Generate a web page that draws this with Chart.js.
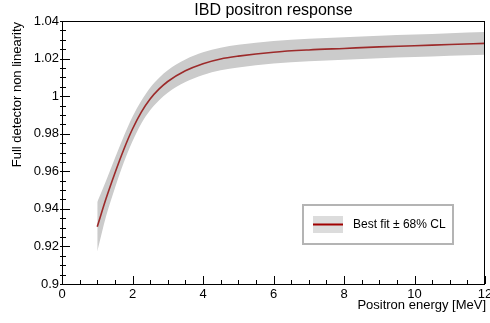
<!DOCTYPE html>
<html>
<head>
<meta charset="utf-8">
<script src="https://cdn.jsdelivr.net/npm/chart.js@4"></script>
<style>
  body { margin: 0; background: #fff; }
  canvas { display: block; }
</style>
</head>
<body>
<canvas id="response" width="490" height="323"></canvas>
<script>
// values
var energy   = [1, 1.25, 1.5, 1.75, 2, 2.25, 2.5, 2.75, 3, 3.5, 4, 4.5, 5, 6, 7, 8, 9, 10, 11, 12];
var bestFit  = [0.9305, 0.9455, 0.959, 0.9715, 0.9825, 0.9915, 0.9985, 1.0037, 1.0078, 1.0135, 1.0173, 1.0198, 1.0213, 1.0234, 1.0246, 1.0254, 1.0262, 1.0268, 1.0275, 1.0281];
var bandHigh = [0.9437, 0.955, 0.967, 0.9785, 0.989, 0.9975, 1.0045, 1.0097, 1.0138, 1.0195, 1.0233, 1.0258, 1.0273, 1.0294, 1.0306, 1.0314, 1.0322, 1.0328, 1.0335, 1.0341];
var bandLow  = [0.9173, 0.936, 0.951, 0.9645, 0.976, 0.9855, 0.9925, 0.9977, 1.0018, 1.0075, 1.0113, 1.0138, 1.0153, 1.0174, 1.0186, 1.0194, 1.0202, 1.0208, 1.0215, 1.0221];

var xTicks = [0, 2, 4, 6, 8, 10, 12];
var xTickLabels = ['0', '2', '4', '6', '8', '10', '12'];
var yTicks = [0.9, 0.92, 0.94, 0.96, 0.98, 1, 1.02, 1.04];
var yTickLabels = ['0.9', '0.92', '0.94', '0.96', '0.98', '1', '1.02', '1.04'];

var titleText = 'IBD positron response';
var xTitle = 'Positron energy [MeV]';
var yTitle = 'Full detector non linearity';
var legendText = 'Best fit \u00b1 68% CL';

var FONT = '"Liberation Sans", Arial, sans-serif';

function points(ys) {
  return energy.map(function (x, i) { return { x: x, y: ys[i] }; });
}

// ROOT style frame, inward ticks, titles and legend box
var rootStyle = {
  id: 'rootStyle',
  afterDatasetsDraw: function (chart) {
    var ctx = chart.ctx, a = chart.chartArea;
    var xs = chart.scales.x, ys = chart.scales.y;
    ctx.save();
    ctx.strokeStyle = '#000';
    ctx.lineWidth = 1;
    ctx.strokeRect(a.left + 0.5, a.top + 0.5, a.right - a.left - 1, a.bottom - a.top);

    ctx.beginPath();
    for (var v = 0; v <= 12.001; v += 0.5) {
      var px = Math.round(xs.getPixelForValue(v)) + 0.5;
      var len = (Math.abs(v / 2 - Math.round(v / 2)) < 1e-6) ? 8 : 4;
      ctx.moveTo(px, a.bottom);
      ctx.lineTo(px, a.bottom - len);
    }
    for (var k = 0; k <= 28; k++) {
      var val = 0.9 + k * 0.005;
      var py = Math.round(ys.getPixelForValue(val)) + 0.5;
      var l2 = (k % 4 === 0) ? 8 : 4;
      ctx.moveTo(a.left - 2, py);
      ctx.lineTo(a.left + l2, py);
    }
    ctx.stroke();
    ctx.restore();
  },
  afterDraw: function (chart) {
    var ctx = chart.ctx, a = chart.chartArea;
    ctx.save();
    ctx.fillStyle = '#000';

    ctx.font = '16px ' + FONT;
    ctx.textAlign = 'center';
    ctx.textBaseline = 'alphabetic';
    ctx.fillText(titleText, (a.left + a.right) / 2, 15);

    ctx.font = '13px ' + FONT;
    ctx.textAlign = 'right';
    ctx.fillText(xTitle, a.right + 1, 309);

    ctx.translate(17, a.top + 1);
    ctx.rotate(-Math.PI / 2);
    ctx.textBaseline = 'middle';
    ctx.fillText(yTitle, 0, 0);
    ctx.setTransform(1, 0, 0, 1, 0, 0);

    // legend
    ctx.fillStyle = '#fff';
    ctx.fillRect(303, 205, 150, 39);
    ctx.strokeStyle = '#b4b4b4';
    ctx.lineWidth = 2;
    ctx.strokeRect(303, 205, 150, 39);
    ctx.fillStyle = '#dcdcdc';
    ctx.fillRect(313, 216, 30, 17);
    ctx.strokeStyle = '#a00000';
    ctx.lineWidth = 2;
    ctx.beginPath();
    ctx.moveTo(313, 224.5);
    ctx.lineTo(343, 224.5);
    ctx.stroke();
    ctx.fillStyle = '#000';
    ctx.font = '12px ' + FONT;
    ctx.textAlign = 'left';
    ctx.textBaseline = 'middle';
    ctx.fillText(legendText, 353, 225);
    ctx.restore();
  }
};

var ctx = document.getElementById('response').getContext('2d');
new Chart(ctx, {
  type: 'line',
  data: {
    datasets: [
      {
        label: 'band low',
        data: points(bandLow),
        borderWidth: 0,
        pointRadius: 0,
        fill: false,
        cubicInterpolationMode: 'monotone',
        order: 1
      },
      {
        label: 'band high',
        data: points(bandHigh),
        borderWidth: 0,
        pointRadius: 0,
        backgroundColor: '#cbcbcb',
        fill: '-1',
        cubicInterpolationMode: 'monotone',
        order: 1
      },
      {
        label: 'Best fit',
        data: points(bestFit),
        borderColor: '#9c2a2a',
        borderWidth: 1.6,
        pointRadius: 0,
        fill: false,
        cubicInterpolationMode: 'monotone',
        order: 0
      }
    ]
  },
  options: {
    responsive: false,
    animation: false,
    devicePixelRatio: 1,
    layout: { padding: { top: 21, right: 5, left: 0, bottom: 0 } },
    plugins: {
      legend: { display: false },
      tooltip: { enabled: false },
      title: { display: false }
    },
    scales: {
      x: {
        type: 'linear',
        min: 0,
        max: 12,
        grid: { display: false, drawTicks: false },
        border: { display: false },
        afterBuildTicks: function (s) { s.ticks = xTicks.map(function (v) { return { value: v }; }); },
        afterFit: function (s) { s.height = 39; s.paddingLeft = 0; s.paddingRight = 0; },
        ticks: {
          padding: 3,
          autoSkip: false,
          maxRotation: 0,
          color: '#000',
          font: { family: FONT, size: 13 },
          callback: function (v, i) { return xTickLabels[i]; }
        }
      },
      y: {
        type: 'linear',
        min: 0.9,
        max: 1.04,
        grid: { display: false, drawTicks: false },
        border: { display: false },
        afterBuildTicks: function (s) { s.ticks = yTicks.map(function (v) { return { value: v }; }); },
        afterFit: function (s) { s.width = 62; s.paddingTop = 0; s.paddingBottom = 0; },
        ticks: {
          padding: 3,
          autoSkip: false,
          color: '#000',
          font: { family: FONT, size: 13 },
          callback: function (v, i) { return yTickLabels[i]; }
        }
      }
    }
  },
  plugins: [rootStyle]
});
</script>
</body>
</html>
